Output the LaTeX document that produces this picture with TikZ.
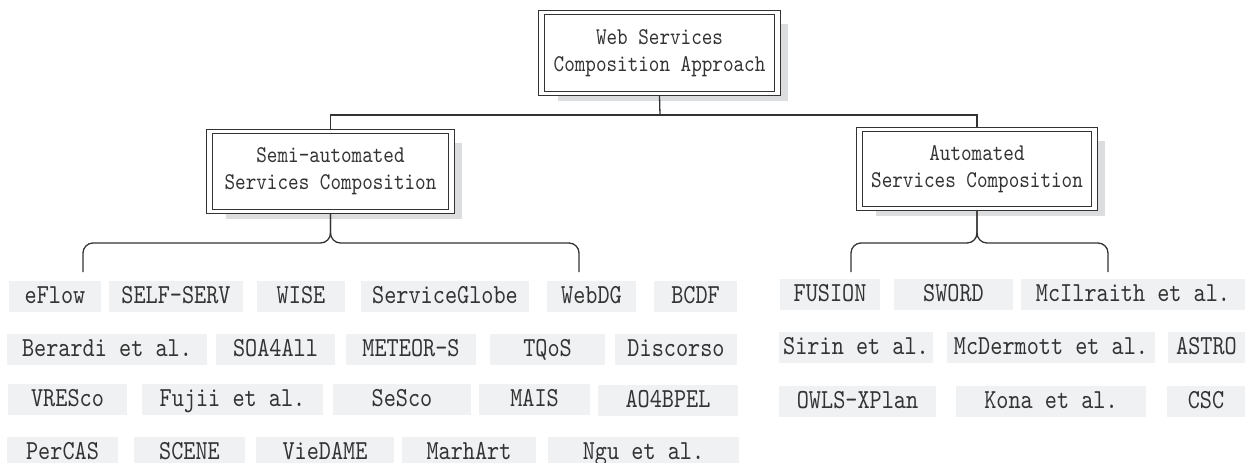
\documentclass[tikz,border=0pt]{standalone}
\usepackage{fontspec}
\usetikzlibrary{calc,backgrounds}
\newfontfamily\boxfont{lmmono10-regular.otf}[FakeStretch=0.84]
\definecolor{leafgray}{HTML}{F0F1F3}
\definecolor{shadowgray}{HTML}{DCDDDF}
\definecolor{ink}{HTML}{333333}
\begin{document}
\begin{tikzpicture}[x=1pt,y=-1pt,
  head/.style={draw=ink, line width=1.4pt, fill=white, align=center, text=ink,
    font=\boxfont\fontsize{24}{27}\selectfont, inner sep=0pt},
  leaf/.style={fill=leafgray, text=ink, font=\boxfont\fontsize{27.5}{30}\selectfont,
    minimum height=31pt, inner sep=0pt, text height=17pt, text depth=4pt},
  link/.style={draw=ink, line width=1.3pt},
  brace/.style={link, rounded corners=10pt},
  innerline/.style={draw=ink, line width=0.9pt},
  shade/.style={fill=shadowgray}]
\useasboundingbox (0,0) rectangle (1245,463);

% heads
\node[head, minimum width=242pt, minimum height=85pt] (top) at (659.5,53) {Web Services\\Composition Approach};
\node[head, minimum width=248pt, minimum height=84pt] (semi) at (330.5,171.5) {Semi-automated\\Services Composition};
\node[head, minimum width=241pt, minimum height=83pt] (auto) at (977,169) {Automated\\Services Composition};

\foreach \n in {top,semi,auto}{
  \draw[innerline] ($(\n.north west)+(7,5)$) rectangle ($(\n.south east)+(-7,-5)$);
}
\begin{scope}[on background layer]
\foreach \n in {top,semi,auto}{
  \fill[shade] ($(\n.north west)+(20,14)$) rectangle ($(\n.south east)+(7,5)$);
}
\end{scope}

% connectors
\coordinate (bar) at (660,115);
\draw[link] (top.south) -- (bar);
\draw[link] (semi.north) |- (bar) -| (auto.north);

\coordinate (sL) at (83,272);
\coordinate (sR) at (579,272);
\coordinate (aL) at (851,272);
\coordinate (aR) at (1108,272);
\draw[brace] (semi.south) |- ($(sL)+(0,-29)$) -- (sL);
\draw[brace] (semi.south) |- ($(sR)+(0,-29)$) -- (sR);
\draw[brace] (auto.south) |- ($(aL)+(0,-29)$) -- (aL);
\draw[brace] (auto.south) |- ($(aR)+(0,-29)$) -- (aR);

% semi-automated leaves
\node[leaf, minimum width=92pt]  (eflow)   at (55,296.5) {eFlow};
\node[leaf, minimum width=134pt] (selfserv) at (176,296.5) {SELF-SERV};
\node[leaf, minimum width=88pt]  (wise)    at (301,296.5) {WISE};
\node[leaf, minimum width=168pt] (sglobe)  at (445,296.5) {ServiceGlobe};
\node[leaf, minimum width=89pt]  (webdg)   at (591.5,296.5) {WebDG};
\node[leaf, minimum width=83pt]  (bcdf)    at (695.5,296.5) {BCDF};

\node[leaf, minimum width=200pt] (berardi) at (107,349.5) {Berardi et al.};
\node[leaf, minimum width=119pt] (soa)     at (275.5,349.5) {SOA4All};
\node[leaf, minimum width=130pt] (meteor)  at (411,349.5) {METEOR-S};
\node[leaf, minimum width=115pt] (tqos)    at (547.5,349.5) {TQoS};
\node[leaf, minimum width=122pt] (disc)    at (676,349.5) {Discorso};

\node[leaf, minimum width=119pt] (vresco)  at (67.5,399.5) {VRESco};
\node[leaf, minimum width=181pt] (fujii)   at (232.5,399.5) {Fujii et al.};
\node[leaf, minimum width=138pt] (sesco)   at (402,399.5) {SeSco};
\node[leaf, minimum width=111pt] (mais)    at (534.5,399.5) {MAIS};
\node[leaf, minimum width=140pt] (ao4)     at (668,400.5) {AO4BPEL};

\node[leaf, minimum width=111pt] (percas)  at (62.5,452.5) {PerCAS};
\node[leaf, minimum width=111pt] (scene)   at (189.5,452.5) {SCENE};
\node[leaf, minimum width=138pt] (viedame) at (325,452.5) {VieDAME};
\node[leaf, minimum width=134pt] (marhart) at (469,452.5) {MarhArt};
\node[leaf, minimum width=191pt] (ngu)     at (643.5,452.5) {Ngu et al.};

% automated leaves
\node[leaf, minimum width=100pt] (fusion)  at (830,294.5) {FUSION};
\node[leaf, minimum width=119pt] (sword)   at (953.5,294.5) {SWORD};
\node[leaf, minimum width=224pt] (mcil)    at (1133,294.5) {McIlraith et al.};

\node[leaf, minimum width=154pt] (sirin)   at (856,347.5) {Sirin et al.};
\node[leaf, minimum width=208pt] (mcder)   at (1051,347.5) {McDermott et al.};
\node[leaf, minimum width=77pt]  (astro)   at (1206.5,347.5) {ASTRO};

\node[leaf, minimum width=157pt] (owls)    at (857.5,401.5) {OWLS-XPlan};
\node[leaf, minimum width=190pt] (kona)    at (1051,401.5) {Kona et al.};
\node[leaf, minimum width=78pt]  (csc)     at (1206,401.5) {CSC};
\end{tikzpicture}
\end{document}
